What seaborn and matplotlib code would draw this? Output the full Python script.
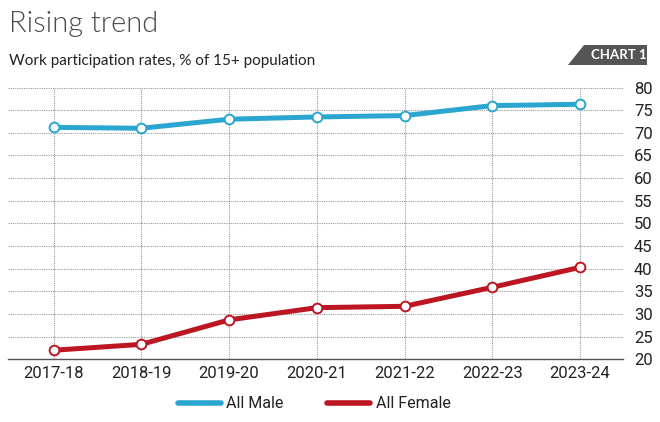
import pandas as pd
import matplotlib
matplotlib.use('Agg')
import matplotlib.pyplot as plt
from matplotlib.lines import Line2D
from matplotlib.patches import Polygon
import seaborn as sns

'''DATA'''
years = ['2017-18', '2018-19', '2019-20', '2020-21', '2021-22', '2022-23', '2023-24']
male = [71.2, 71.0, 73.0, 73.5, 73.8, 76.0, 76.3]
female = [22.0, 23.3, 28.7, 31.4, 31.7, 35.9, 40.3]
series = ['All Male', 'All Female']
colours = {'All Male': '#2aa6d0', 'All Female': '#bb1622'}

df = pd.DataFrame({
    'year': years * 2,
    'rate': male + female,
    'group': [series[0]] * len(years) + [series[1]] * len(years),
})

sns.set_style('white')
plt.rcParams['font.family'] = ['Roboto', 'DejaVu Sans']

fig = plt.figure(figsize=(6.6, 4.22), dpi=100)
ax = fig.add_axes([8 / 660, 1 - 359.3 / 422, 615 / 660, 271.8 / 422])

sns.lineplot(data=df, x='year', y='rate', hue='group', palette=colours,
             linewidth=3.6, marker='o', markersize=7, markerfacecolor='white',
             markeredgewidth=1.4, sort=False, legend=False, ax=ax, zorder=3)
# marker edges same colour as line
for line in ax.get_lines():
    line.set_markeredgecolor(line.get_color())

ax.set_xlim(-0.52, 6.49)
ax.set_ylim(20, 80)
ax.set_yticks(range(20, 81, 5))
ax.yaxis.tick_right()
ax.tick_params(axis='both', length=0, labelsize=12, colors='#222222')
ax.tick_params(axis='y', pad=8)
ax.tick_params(axis='x', pad=5)
ax.set_xlabel('')
ax.set_ylabel('')

ax.grid(True, axis='both', color='#9a9a9a', linestyle=(0, (1, 1)), linewidth=0.8)
for s in ['top', 'left', 'right']:
    ax.spines[s].set_visible(False)
ax.spines['bottom'].set_color('#555555')
ax.spines['bottom'].set_linewidth(1.0)

# legend under the chart
handles = [Line2D([0], [0], color=colours[s], linewidth=4, solid_capstyle='round') for s in series]
fig.legend(handles, series, loc='center', bbox_to_anchor=(314 / 660, 1 - 404 / 422), ncol=2,
           frameon=False, fontsize=11.5, handlelength=2.7, handletextpad=0.35, columnspacing=2.7,
           labelcolor='#222222')

# titles
fig.text(9 / 660, 1 - 32 / 422, 'Rising trend', family=['Lato', 'DejaVu Sans'], weight=300,
         fontsize=21, color='#4a4a4a', va='baseline')
fig.text(9 / 660, 1 - 65 / 422, 'Work participation rates, % of 15+ population',
         family=['Lato', 'DejaVu Sans'], fontsize=11, color='#222222', va='baseline')

# CHART 1 badge
badge = Polygon([(568 / 660, 1 - 65 / 422), (584 / 660, 1 - 45 / 422), (647 / 660, 1 - 45 / 422),
                 (647 / 660, 1 - 65 / 422)], closed=True, transform=fig.transFigure,
                facecolor='#555555', edgecolor='none')
fig.patches.append(badge)
fig.text(619 / 660, 1 - 55 / 422, 'CHART 1', color='white', weight='bold', fontsize=9.5,
         family=['Lato', 'DejaVu Sans'], ha='center', va='center')

fig.savefig('out.png', dpi=100)
